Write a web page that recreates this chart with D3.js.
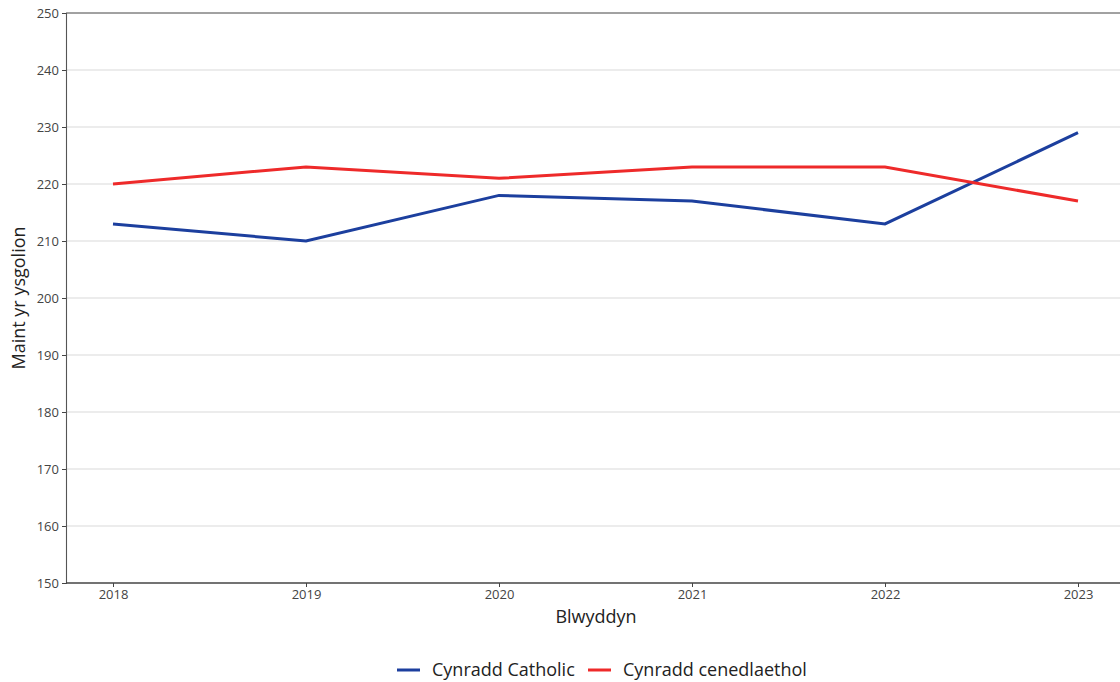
<!DOCTYPE html>
<html><head><meta charset="utf-8">
<script src="https://cdn.jsdelivr.net/npm/d3@7"></script>
<style>body{margin:0;background:#fff;font-family:"Open Sans",sans-serif;}</style>
</head><body>
<svg id="c" width="1120" height="682"></svg>
<script>
const years = [2018, 2019, 2020, 2021, 2022, 2023];
const catholic = [213, 210, 218, 217, 213, 229];
const cenedlaethol = [220, 223, 221, 223, 223, 217];
const yTicks = [150, 160, 170, 180, 190, 200, 210, 220, 230, 240, 250];
const seriesNames = ["Cynradd Catholic", "Cynradd cenedlaethol"];
const colors = ["#1c3f9e", "#ee2a2a"];

const svg = d3.select("#c");
const m = {l: 66, t: 13, r: 1120, b: 583};
const x = d3.scaleLinear().domain([2018, 2023]).range([113, 1078]);
const y = d3.scaleLinear().domain([150, 250]).range([m.b, m.t]);

// gridlines
svg.append("g").selectAll("line").data(yTicks.slice(1, -1)).join("line")
  .attr("x1", m.l).attr("x2", m.r).attr("y1", d => y(d)).attr("y2", d => y(d))
  .attr("stroke", "#e6e6e6").attr("stroke-width", 1.3);

// top border
svg.append("line").attr("x1", m.l).attr("x2", m.r).attr("y1", m.t).attr("y2", m.t)
  .attr("stroke", "#444").attr("stroke-width", 1);

// y axis
const ya = svg.append("g").attr("transform", `translate(${m.l},0)`)
  .call(d3.axisLeft(y).tickValues(yTicks).tickSize(4).tickPadding(3));
ya.select(".domain").attr("stroke", "#555").attr("stroke-width", 1.1);
ya.selectAll(".tick line").attr("stroke", "#444");
ya.selectAll("text").attr("font-family", "Open Sans").attr("font-size", 13).attr("fill", "#444");

// x axis
const xa = svg.append("g").attr("transform", `translate(0,${m.b})`)
  .call(d3.axisBottom(x).tickValues(years).tickFormat(d3.format("d")).tickSize(4).tickPadding(3));
xa.select(".domain").attr("d", `M${m.l},0H${m.r}`).attr("stroke", "#444").attr("stroke-width", 1.3);
xa.selectAll(".tick line").attr("stroke", "#444");
xa.selectAll("text").attr("font-family", "Open Sans").attr("font-size", 13).attr("fill", "#444");

// lines
const line = d3.line().x((d, i) => x(years[i])).y(d => y(d));
[catholic, cenedlaethol].forEach((s, k) => {
  svg.append("path").datum(s).attr("d", line).attr("fill", "none")
    .attr("stroke", colors[k]).attr("stroke-width", 3);
});

// axis titles
svg.append("text").attr("x", 596).attr("y", 623).attr("text-anchor", "middle")
  .attr("font-size", 18).attr("fill", "#222").text("Blwyddyn");
svg.append("text").attr("transform", `translate(25,298) rotate(-90)`).attr("text-anchor", "middle")
  .attr("font-size", 18).attr("fill", "#222").text("Maint yr ysgolion");

// legend
const lg = [{x: 397, n: seriesNames[0], c: colors[0]}, {x: 588, n: seriesNames[1], c: colors[1]}];
lg.forEach(d => {
  svg.append("line").attr("x1", d.x).attr("x2", d.x + 23).attr("y1", 670).attr("y2", 670)
    .attr("stroke", d.c).attr("stroke-width", 3);
  svg.append("text").attr("x", d.x + 35).attr("y", 676).attr("font-size", 18).attr("fill", "#222").text(d.n);
});
</script>
</body></html>
